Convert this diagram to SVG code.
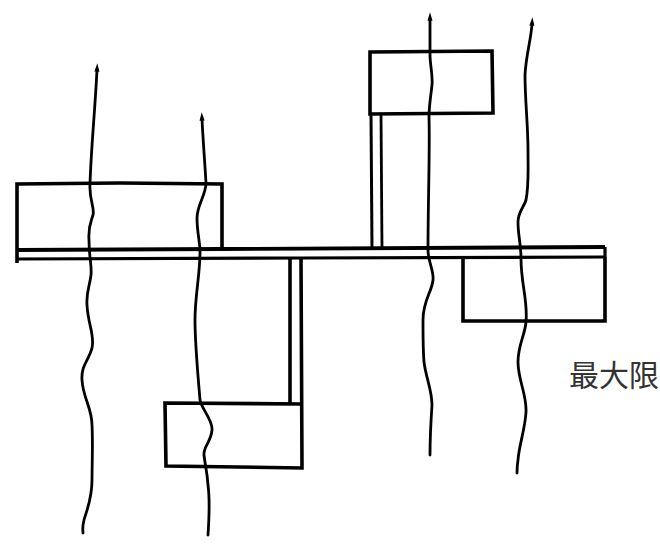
<svg xmlns="http://www.w3.org/2000/svg" width="660" height="546" viewBox="0 0 660 546">
<style>
.box{fill:none;stroke:#000;stroke-width:3.6;stroke-linejoin:miter}
.bar{fill:none;stroke:#000;stroke-width:3.2}
.wave{fill:none;stroke:#000;stroke-width:2.8;stroke-linecap:round}
.lbl{font-family:"Noto Sans CJK JP","Noto Sans CJK SC",sans-serif;font-size:30px;fill:#333}
</style>
<defs>
<marker id="tip" viewBox="0 0 10 10" refX="2" refY="5" markerWidth="3.4" markerHeight="3" orient="auto-start-reverse" markerUnits="strokeWidth">
<path d="M0,2 L10,5 L0,8 Z" fill="#000"/>
</marker>
</defs>
<rect width="660" height="546" fill="#fff"/>
<g id="bar">
<path class="bar" d="M17,250 L220,249 L605,247" style="stroke-width:3.8"/>
<path class="bar" d="M17,259 L300,258 L605,257"/>
<path class="bar" d="M605,247 L605,258"/>
</g>
<g id="box-left">
<path class="box" d="M17,263 L17,184 L120,183 L222,184 L222,251"/>
</g>
<g id="box-top-right">
<path class="box" d="M370,52 L492,51 L493,113 L370,114 Z"/>
<path class="box" d="M371,114 L372,249" style="stroke-width:3"/>
<path class="box" d="M381,115 L382,249" style="stroke-width:2.8"/>
</g>
<g id="box-bottom">
<path class="box" d="M290,259 L290,403"/>
<path class="box" d="M301,258 L302,468 L166,466 L165,403 L301,404"/>
</g>
<g id="box-right">
<path class="box" d="M463,258 L463,321 L605,321 L605,257"/>
</g>
<g id="connectors">
<path class="wave" marker-start="url(#tip)" d="M97,70 C95,110 91,150 90,184 C89,200 95,208 93,215 C91,222 88,226 89,240 C89,258 92,265 91,275 C90,285 86,292 87,305 C88,325 95,335 92,348 C89,360 81,365 82,380 C83,398 92,408 92,425 C93,445 92,465 92,480 C92,500 86,512 84,520 C82,528 83,530 83,533"/>
<path class="wave" marker-start="url(#tip)" d="M202,119 C203,140 205,165 206,183 C206,195 197,205 197,218 C197,232 200,242 200,252 C200,275 195,295 195,320 C195,345 198,375 200,400 C202,410 213,420 212,430 C211,442 203,447 204,455 C205,465 207,470 208,485 C210,500 209,520 208,535"/>
<path class="wave" marker-start="url(#tip)" d="M430,19 C430,30 430,45 430,55 C430,65 433,75 432,85 C431,95 429,105 429,118 C430,150 428,200 428,250 C428,262 434,270 433,280 C432,292 423,300 423,320 C423,340 423,350 424,362 C426,378 432,390 432,405 C431,420 430,440 430,455"/>
<path class="wave" marker-start="url(#tip)" d="M532,24 C531,40 526,55 525,75 C525,100 528,125 528,150 C528,170 529,185 526,200 C524,207 518,212 518,222 C518,235 521,245 521,258 C521,285 528,300 526,322 C525,335 518,345 518,362 C518,380 527,395 526,412 C525,430 519,445 518,460 C517,466 517,470 517,473"/>
</g>
<g id="label">
<text class="lbl" x="569" y="386">最大限</text>
</g>
</svg>
